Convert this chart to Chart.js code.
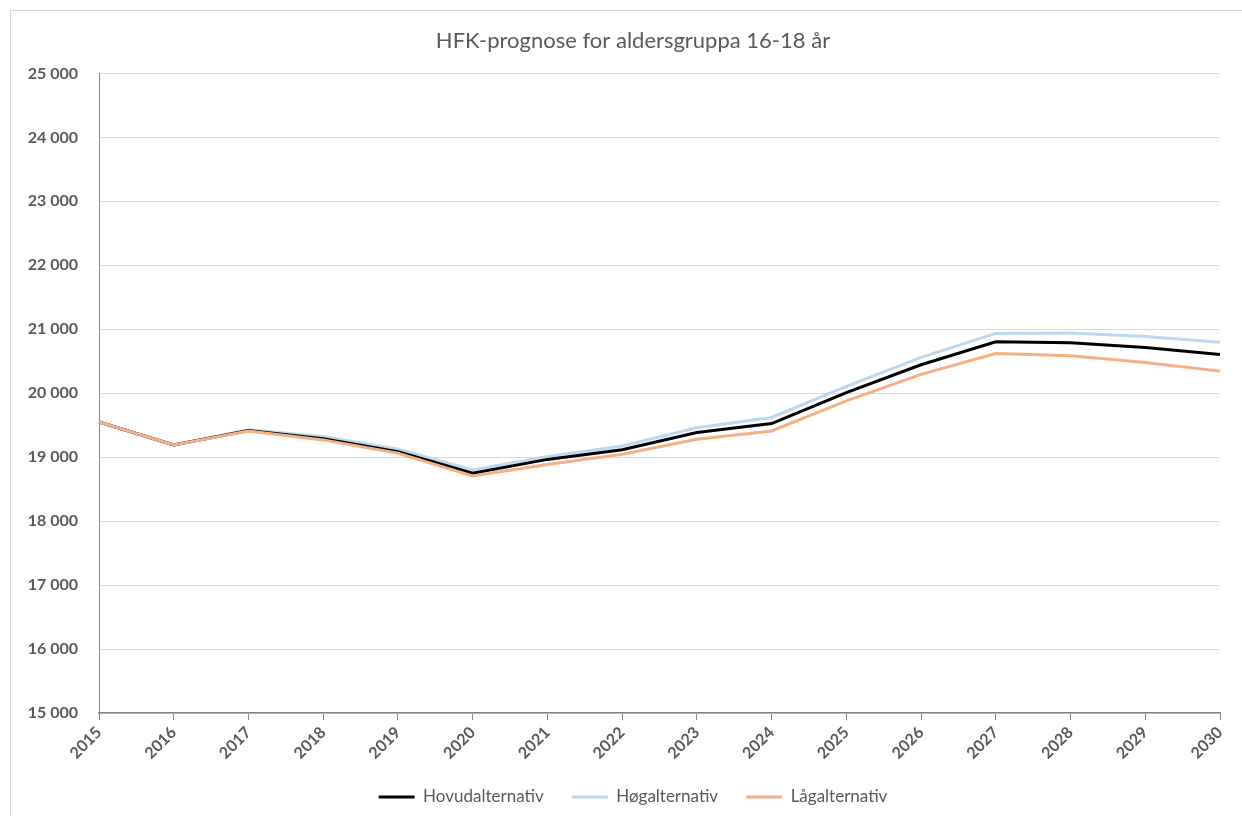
<!DOCTYPE html>
<html>
<head>
<meta charset="utf-8">
<script src="https://cdn.jsdelivr.net/npm/chart.js@4/dist/chart.umd.min.js"></script>
<style>
  html, body { margin: 0; padding: 0; background: #fff; overflow: hidden; }
  #frame {
    position: absolute; left: 10px; top: 10px;
    width: 1300px; height: 900px;
    border: 1px solid #d9d9d9;
  }
  #wrap { position: absolute; left: 0; top: 0; width: 1242px; height: 816px; }
</style>
</head>
<body>
<div id="frame"></div>
<div id="wrap"><canvas id="chart"></canvas></div>
<script>
// Data
const years = ["2015", "2016", "2017", "2018", "2019", "2020", "2021", "2022",
  "2023", "2024", "2025", "2026", "2027", "2028", "2029", "2030"];
const hovud = [19550, 19190, 19415, 19290, 19085, 18750, 18965, 19115,
  19385, 19525, 20010, 20445, 20805, 20790, 20715, 20605];
const hog = [19550, 19190, 19430, 19325, 19125, 18800, 19010, 19175,
  19460, 19620, 20105, 20560, 20935, 20940, 20885, 20795];
const lag = [19550, 19190, 19410, 19270, 19060, 18705, 18885, 19045,
  19280, 19410, 19880, 20295, 20620, 20585, 20480, 20345];

const textColor = "#595959";
const fontFamily = "Lato, 'Open Sans', sans-serif";

function spaced(v) {
  return String(v).replace(/\B(?=(\d{3})+(?!\d))/g, " ");
}

// title and legend are centred on the frame, not on the canvas
const shiftBlocks = {
  id: "shiftBlocks",
  afterLayout(chart) {
    chart.titleBlock.left = 46;
    chart.legend.left = 46;
  },
};

const ctx = document.getElementById("chart").getContext("2d");
const chart = new Chart(ctx, {
  type: "line",
  data: {
    labels: years,
    datasets: [
      {
        label: "Hovudalternativ",
        data: hovud,
        borderColor: "#000000",
        backgroundColor: "#000000",
        borderWidth: 3,
        pointRadius: 0,
        tension: 0,
        order: 1,
      },
      {
        label: "Høgalternativ",
        data: hog,
        borderColor: "#bdd7ee",
        backgroundColor: "#bdd7ee",
        borderWidth: 3,
        pointRadius: 0,
        tension: 0,
        order: 2,
      },
      {
        label: "Lågalternativ",
        data: lag,
        borderColor: "#f4b183",
        backgroundColor: "#f4b183",
        borderWidth: 3,
        pointRadius: 0,
        tension: 0,
        order: 0,
      },
    ],
  },
  options: {
    responsive: true,
    maintainAspectRatio: false,
    animation: false,
    layout: {
      padding: { top: 2, right: 22, bottom: 0, left: 0 },
    },
    plugins: {
      title: {
        display: true,
        text: "HFK-prognose for aldersgruppa 16-18 år",
        color: textColor,
        font: { family: fontFamily, size: 22, weight: "normal" },
        padding: { top: 26, bottom: 19 },
      },
      legend: {
        position: "bottom",
        labels: {
          sort: (a, b) => a.datasetIndex - b.datasetIndex,
          color: textColor,
          font: { family: fontFamily, size: 17 },
          usePointStyle: true,
          pointStyle: "line",
          pointStyleWidth: 36,
          padding: 28,
        },
      },
      tooltip: { enabled: false },
    },
    scales: {
      x: {
        offset: false,
        afterFit: (scale) => { scale.height = 47.5; },
        grid: {
          drawOnChartArea: false,
          drawTicks: true,
          tickLength: 7,
          color: "#868686",
        },
        border: { color: "#868686", width: 1.5 },
        ticks: {
          color: textColor,
          font: { family: fontFamily, size: 16, weight: "bold" },
          maxRotation: 45,
          minRotation: 45,
          autoSkip: false,
        },
      },
      y: {
        min: 15000,
        max: 25000,
        afterFit: (scale) => { scale.width = 99; },
        grid: { color: "#d9d9d9", drawTicks: false },
        border: { color: "#868686", width: 1 },
        ticks: {
          stepSize: 1000,
          padding: 21,
          color: textColor,
          font: { family: fontFamily, size: 16, weight: "bold" },
          callback: (v) => spaced(v),
        },
      },
    },
  },
  plugins: [shiftBlocks],
});

// keep the legend compact vertically while using wide gaps between items
const legendFit = chart.legend.fit;
chart.legend.fit = function () {
  legendFit.call(this);
  this.height = 55.5;
};
chart.update();
</script>
</body>
</html>
